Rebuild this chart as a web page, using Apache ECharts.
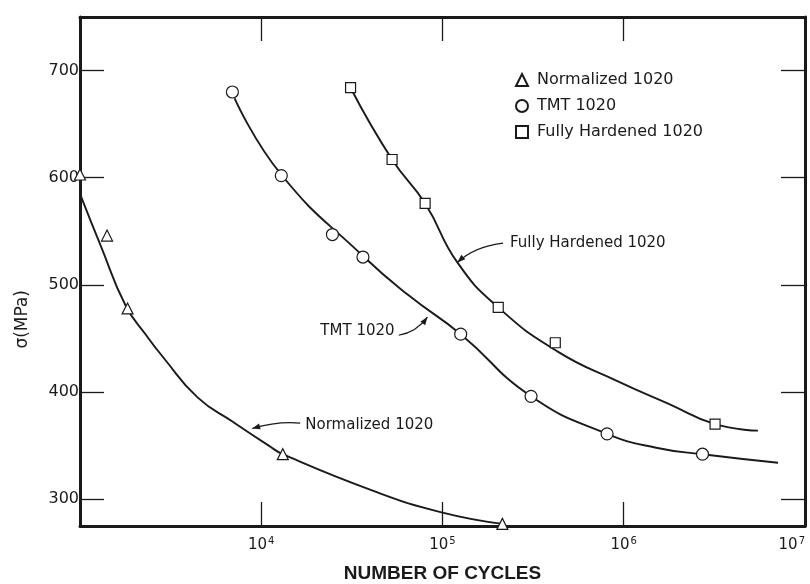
<!DOCTYPE html>
<html>
<head>
<meta charset="utf-8">
<script src="https://cdn.jsdelivr.net/npm/echarts/dist/echarts.min.js"></script>
<style>
  html, body { margin: 0; padding: 0; background: #fff; overflow: hidden; }
  #chart { width: 810px; height: 584px; }
</style>
</head>
<body>
<div id="chart"></div>
<script>
// test points (cycles, MPa)
const normCycles = [1000, 1410, 1830, 13150, 214000]
const normStress = [603, 546, 478, 342, 277]
const tmtCycles = [6930, 12900, 24700, 36400, 126000, 308000, 809000, 2720000]
const tmtStress = [680, 602, 547, 526, 454, 396, 361, 342]
const fhCycles = [31100, 52700, 80200, 203000, 419000, 3190000]
const fhStress = [684, 617, 576, 479, 446, 370]

// hand drawn curves through the points
const normCurveCycles = [1000, 1312, 1782, 2320, 2890, 4450, 7000, 11000, 13150, 41200, 97500, 214000]
const normCurveStress = [585, 535, 481, 453, 432, 395, 372, 350, 342, 308, 288, 277]
const tmtCurveCycles = [7130, 12880, 36400, 65300, 126000, 308000, 809000, 1510000, 2720000, 7100000]
const tmtCurveStress = [674, 603, 527, 490, 454, 396, 361, 348, 342, 334]
const fhCurveCycles = [31100, 52700, 80200, 120800, 203000, 430000, 929000, 1770000, 3190000, 5500000]
const fhCurveStress = [684, 617, 576, 521, 479, 438, 410, 389, 370, 364]

const seriesNames = ['Normalized 1020', 'TMT 1020', 'Fully Hardened 1020']

// curve labels with arrows (cycles, MPa)
const noteText = ['Fully Hardened 1020', 'TMT 1020', 'Normalized 1020']
const noteAlign = ['left', 'right', 'left']
const noteAt = [[235800, 539], [54400, 457], [17500, 369]]
const arrowFrom = [[216000, 539], [57300, 453], [16400, 371]]
const arrowVia = [[151000, 536], [71900, 456], [12400, 373]]
const arrowTo = [[120800, 521], [82600, 470], [8910, 366]]

const ink = '#1a1a1a'
const font = '"DejaVu Sans", sans-serif'

function pairs(xs, ys) {
  return xs.map((x, i) => [x, ys[i]])
}

const chart = echarts.init(document.getElementById('chart'), null, { width: 810, height: 584 })

const frameLine = { show: true, onZero: false, lineStyle: { color: ink, width: 3 } }
const tickIn = { show: true, inside: true, length: 24, lineStyle: { color: ink, width: 1.3 } }

const xBase = {
  type: 'log',
  logBase: 10,
  min: 1000,
  max: 10000000,
  axisLine: frameLine,
  axisTick: tickIn,
  splitLine: { show: false },
  minorTick: { show: false }
}
const yBase = {
  type: 'value',
  min: 275,
  max: 750,
  axisLine: frameLine,
  axisTick: tickIn,
  splitLine: { show: false }
}

function curve(name, xs, ys) {
  return {
    name: name + ' curve',
    type: 'line',
    data: pairs(xs, ys),
    smooth: 0.5,
    showSymbol: false,
    symbol: 'none',
    silent: true,
    lineStyle: { color: ink, width: 1.9 },
    z: 2
  }
}

function points(name, xs, ys, symbol, size) {
  return {
    name: name,
    type: 'scatter',
    data: pairs(xs, ys),
    symbol: symbol,
    symbolSize: size,
    itemStyle: { color: '#fff', borderColor: ink, borderWidth: 1.2, opacity: 1 },
    z: 5
  }
}

chart.setOption({
  backgroundColor: '#fff',
  animation: false,
  grid: { left: 80, right: 5, top: 17, bottom: 58, containLabel: false, outerBoundsMode: 'none' },
  legend: {
    data: seriesNames,
    orient: 'vertical',
    left: 510,
    top: 67,
    itemWidth: 12,
    itemHeight: 12,
    itemGap: 10,
    textStyle: { color: ink, fontSize: 16, fontFamily: font, padding: [0, 0, 0, 4] }
  },
  xAxis: [
    Object.assign({}, xBase, {
      position: 'bottom',
      name: 'NUMBER OF CYCLES',
      nameLocation: 'middle',
      nameGap: 38,
      nameTextStyle: { color: ink, fontSize: 19, fontWeight: 'bold', fontFamily: '"Liberation Sans", sans-serif' },
      axisLabel: {
        show: true,
        margin: 10,
        showMaxLabel: true,
        alignMaxLabel: 'right',
        formatter: function (v) {
          const e = Math.round(Math.log10(v))
          return e === 3 ? '' : '{b|10}{s|' + e + '}'
        },
        rich: {
          b: { fontSize: 15, fontFamily: font, color: ink },
          s: { fontSize: 10, fontFamily: font, color: ink, padding: [0, 0, 9, 1] }
        }
      }
    }),
    Object.assign({}, xBase, { position: 'top', axisLabel: { show: false } })
  ],
  yAxis: [
    Object.assign({}, yBase, {
      position: 'left',
      axisLabel: {
        show: true,
        margin: 1,
        color: ink,
        fontSize: 16,
        fontFamily: font,
        formatter: v => (v % 100 === 0 ? String(v) : '')
      }
    }),
    Object.assign({}, yBase, { position: 'right', axisLabel: { show: false } })
  ],
  series: [
    curve(seriesNames[0], normCurveCycles, normCurveStress),
    curve(seriesNames[1], tmtCurveCycles, tmtCurveStress),
    curve(seriesNames[2], fhCurveCycles, fhCurveStress),
    points(seriesNames[0], normCycles, normStress, 'triangle', 11),
    points(seriesNames[1], tmtCycles, tmtStress, 'circle', 12),
    points(seriesNames[2], fhCycles, fhStress, 'rect', 10)
  ]
})

// labels and arrows, placed from data coordinates
const px = p => chart.convertToPixel({ xAxisIndex: 0, yAxisIndex: 0 }, p)
const graphics = [{
  type: 'text',
  left: 14,
  top: 290,
  rotation: Math.PI / 2,
  style: { text: 'σ(MPa)', font: '17px ' + font, fill: ink }
}]

for (let i = 0; i < noteText.length; i++) {
  const t = px(noteAt[i])
  const a = px(arrowFrom[i])
  const c = px(arrowVia[i])
  const b = px(arrowTo[i])
  graphics.push({
    type: 'text',
    x: t[0],
    y: t[1],
    style: {
      text: noteText[i],
      font: '15px ' + font,
      fill: ink,
      textAlign: noteAlign[i],
      textVerticalAlign: 'middle',
      verticalAlign: 'middle',
      align: noteAlign[i]
    }
  })
  graphics.push({
    type: 'bezierCurve',
    shape: { x1: a[0], y1: a[1], cpx1: c[0], cpy1: c[1], x2: b[0], y2: b[1] },
    style: { stroke: ink, lineWidth: 1.2, fill: null }
  })
  const ang = Math.atan2(b[1] - c[1], b[0] - c[0])
  const len = 8, wid = 3
  const bx = b[0] - len * Math.cos(ang), by = b[1] - len * Math.sin(ang)
  graphics.push({
    type: 'polygon',
    shape: { points: [
      [b[0], b[1]],
      [bx + wid * Math.sin(ang), by - wid * Math.cos(ang)],
      [bx - wid * Math.sin(ang), by + wid * Math.cos(ang)]
    ] },
    style: { fill: ink }
  })
}
chart.setOption({ graphic: graphics })

window.onresize = chart.resize
</script>
</body>
</html>
